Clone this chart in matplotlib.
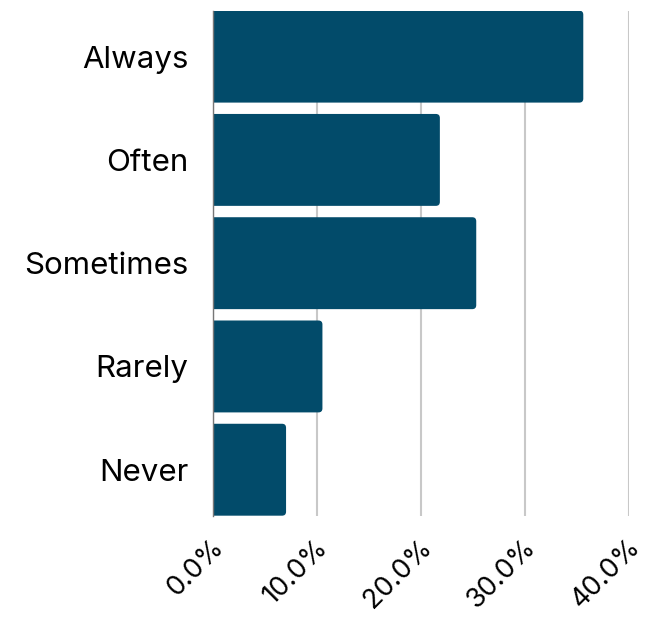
import matplotlib.pyplot as plt
import matplotlib.patches as patches
import matplotlib.ticker as ticker
import matplotlib.transforms as mtransforms
import numpy as np

categories = ["Always", "Often", "Sometimes", "Rarely", "Never"]
shares = [35.6, 21.8, 25.3, 10.5, 7.0]
xticks = [0, 10, 20, 30, 40]

bar_color = "#024b6a"
grid_color = "#c8c8c8"

plt.rcParams["font.family"] = ["Inter", "DejaVu Sans"]

fig = plt.figure(figsize=(6.46, 6.21), dpi=100)
ax = fig.add_axes([0.3302, 0.1696, 0.6435, 0.8132])

height = 0.89
ypos = np.arange(len(categories))
ax.set_xlim(0, 40)
ax.set_ylim(len(categories) - 1 + height / 2, -height / 2)

# pixel -> data scale, so the rounded ends stay circular
x_per_px = 40 / (0.6435 * 646)
y_per_px = (len(categories) - 1 + height) / (0.8132 * 621)
r = 4 * x_per_px
for y, v in zip(ypos, shares):
    # start left of zero; the axes clip keeps the left end square
    box = patches.FancyBboxPatch((-1, y - height / 2), v + 1, height,
                                 boxstyle=f"round,pad=0,rounding_size={r}",
                                 mutation_aspect=y_per_px / x_per_px,
                                 facecolor=bar_color, edgecolor="none", zorder=3)
    ax.add_patch(box)

ax.set_yticks(ypos)
ax.set_yticklabels(categories, fontsize=22.5)
for lab in ax.get_yticklabels():
    lab.set_transform(lab.get_transform() + mtransforms.ScaledTranslation(0, 0.04, fig.dpi_scale_trans))
ax.set_xticks(xticks)
ax.xaxis.set_major_formatter(ticker.FuncFormatter(lambda v, p: f"{v:.1f}%"))
ax.tick_params(axis="both", length=0)
ax.tick_params(axis="y", pad=18)
ax.tick_params(axis="x", pad=20)
for lab in ax.get_xticklabels():
    lab.set_rotation(45)
    lab.set_ha("right")
    lab.set_va("center")
    lab.set_rotation_mode("anchor")
    lab.set_fontsize(19.5)
    lab.set_transform(lab.get_transform() + mtransforms.ScaledTranslation(0.07, 0, fig.dpi_scale_trans))

ax.grid(axis="x", color=grid_color, linewidth=1.5, zorder=0)
for s in ["top", "right", "bottom"]:
    ax.spines[s].set_visible(False)
ax.spines["left"].set_color("#777777")
ax.spines["left"].set_linewidth(1.0)
ax.spines["left"].set_zorder(4)

fig.savefig("out.png", dpi=100)
